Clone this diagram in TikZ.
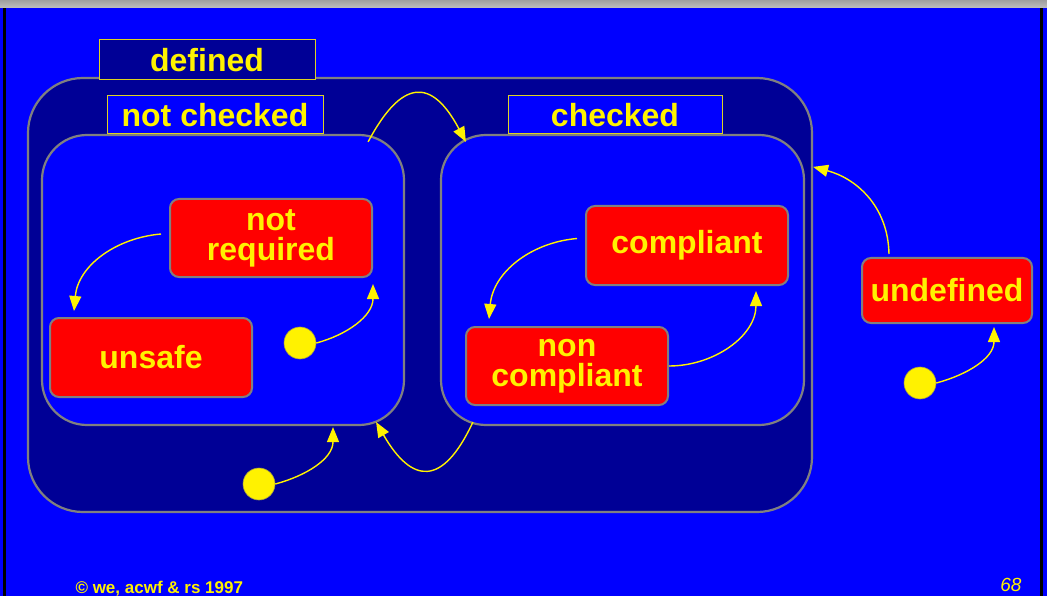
\documentclass[tikz,border=0pt]{standalone}
\usepackage{fontspec}
\setmainfont{Liberation Sans}
\usepackage{tikz}
\usetikzlibrary{arrows.meta, positioning}

\definecolor{slideblue}{RGB}{0,0,255}
\definecolor{navy}{RGB}{0,0,150}
\definecolor{framegray}{RGB}{128,128,128}

\begin{document}
\begin{tikzpicture}[x=1pt, y=-1pt,
	font=\bfseries\fontsize{32}{30}\selectfont,
	region/.style={draw=framegray, line width=2.2pt, rounded corners=45pt, inner sep=0pt},
	tag/.style={draw=yellow!85!black, line width=1pt, text=yellow, inner sep=0pt},
	state/.style={draw=framegray, line width=2pt, fill=red, text=yellow, rounded corners=9pt, align=center, inner sep=0pt},
	startdot/.style={circle, fill=yellow, draw=yellow!60!black, line width=.6pt, minimum size=32pt, inner sep=0pt},
	trans/.style={draw=yellow, line width=1.4pt, -{Triangle[length=15pt,width=12pt]}}
	]
	\useasboundingbox (0,0) rectangle (1047,596);
	% Hintergrund der Folie
	\fill[slideblue] (0,0) rectangle (1047,596);
	\shade[top color=gray!75, bottom color=gray!50] (0,0) rectangle (1047,8);
	\fill[black] (3,8) rectangle (6,596);
	\fill[black] (1040,8) rectangle (1043,596);
	
	% Zustaende und Bereiche
	\node[region, fill=navy, rounded corners=55pt, minimum width=784pt, minimum height=434pt] (defined) at (420,295) {};
	\node[tag, fill=navy, minimum width=216pt, minimum height=40pt] (definedtag) at (207,60) {defined};
	\node[region, fill=slideblue, minimum width=362pt, minimum height=290pt] (leftreg) at (223,280) {};
	\node[region, fill=slideblue, minimum width=363pt, minimum height=290pt] (rightreg) at (622.5,280) {};
	\node[tag, fill=slideblue, minimum width=216pt, minimum height=38pt] (notcheckedtag) at (215,115) {not checked};
	\node[tag, fill=slideblue, minimum width=214pt, minimum height=38pt] (checkedtag) at (615,115) {checked};
	
	\node[state, minimum width=202pt, minimum height=78pt] (notreq) at (271,238) {not\\required};
	\node[state, minimum width=202pt, minimum height=79pt] (unsafe) at (151,357.5) {unsafe};
	\node[state, minimum width=202pt, minimum height=79pt] (compliant) at (687,245.5) {compliant};
	\node[state, minimum width=202pt, minimum height=78pt] (noncompl) at (567,366) {non\\compliant};
	\node[state, minimum width=170pt, minimum height=65pt] (undefined) at (947,290.5) {undefined};
	
	\node[startdot] (startleft) at (300,343) {};
	\node[startdot] (startundef) at (920,383) {};
	\node[startdot] (startdefined) at (259,484) {};
	
	% Uebergaenge
	\draw[trans] ([shift={(-8,-4)}]notreq.west) to[out=185, in=85] ([shift={(25,-6)}]unsafe.north west);
	\draw[trans] (startleft.east) to[out=15, in=270] ([shift={(0,6)}]notreq.south east);
	\draw[trans] ([shift={(-8,-7)}]compliant.west) to[out=185, in=85] ([shift={(24,-7)}]noncompl.north west);
	\draw[trans] (noncompl.east) to[out=0, in=270] ([shift={(-33,5)}]compliant.south east);
	\draw[trans] (startundef.east) to[out=15, in=270] ([shift={(-39,3)}]undefined.south east);
	\draw[trans] ([shift={(28,-3)}]undefined.north west) .. controls (888,205) and (855,178) .. ([shift={(0,90)}]defined.north east);
	\draw[trans] (startdefined.east) to[out=15, in=270] ([shift={(110,1)}]leftreg.south);
	\draw[trans] ([shift={(33,-4)}]rightreg.south west) to[out=245, in=300, looseness=1.9] ([shift={(-29,-4)}]leftreg.south east);
	\draw[trans] ([shift={(-37,8)}]leftreg.north east) to[out=62, in=118, looseness=1.9] ([shift={(26,8)}]rightreg.north west);
	
	% Fusszeile
	\node[text=yellow, font=\bfseries\fontsize{17}{18}\selectfont, anchor=base west] (copyright) at (72,593) {© we, acwf \& rs 1997};
	\node[text=yellow, font=\itshape\fontsize{19}{20}\selectfont, anchor=base east] (pagenum) at (1025,591) {68};
\end{tikzpicture}
\end{document}
